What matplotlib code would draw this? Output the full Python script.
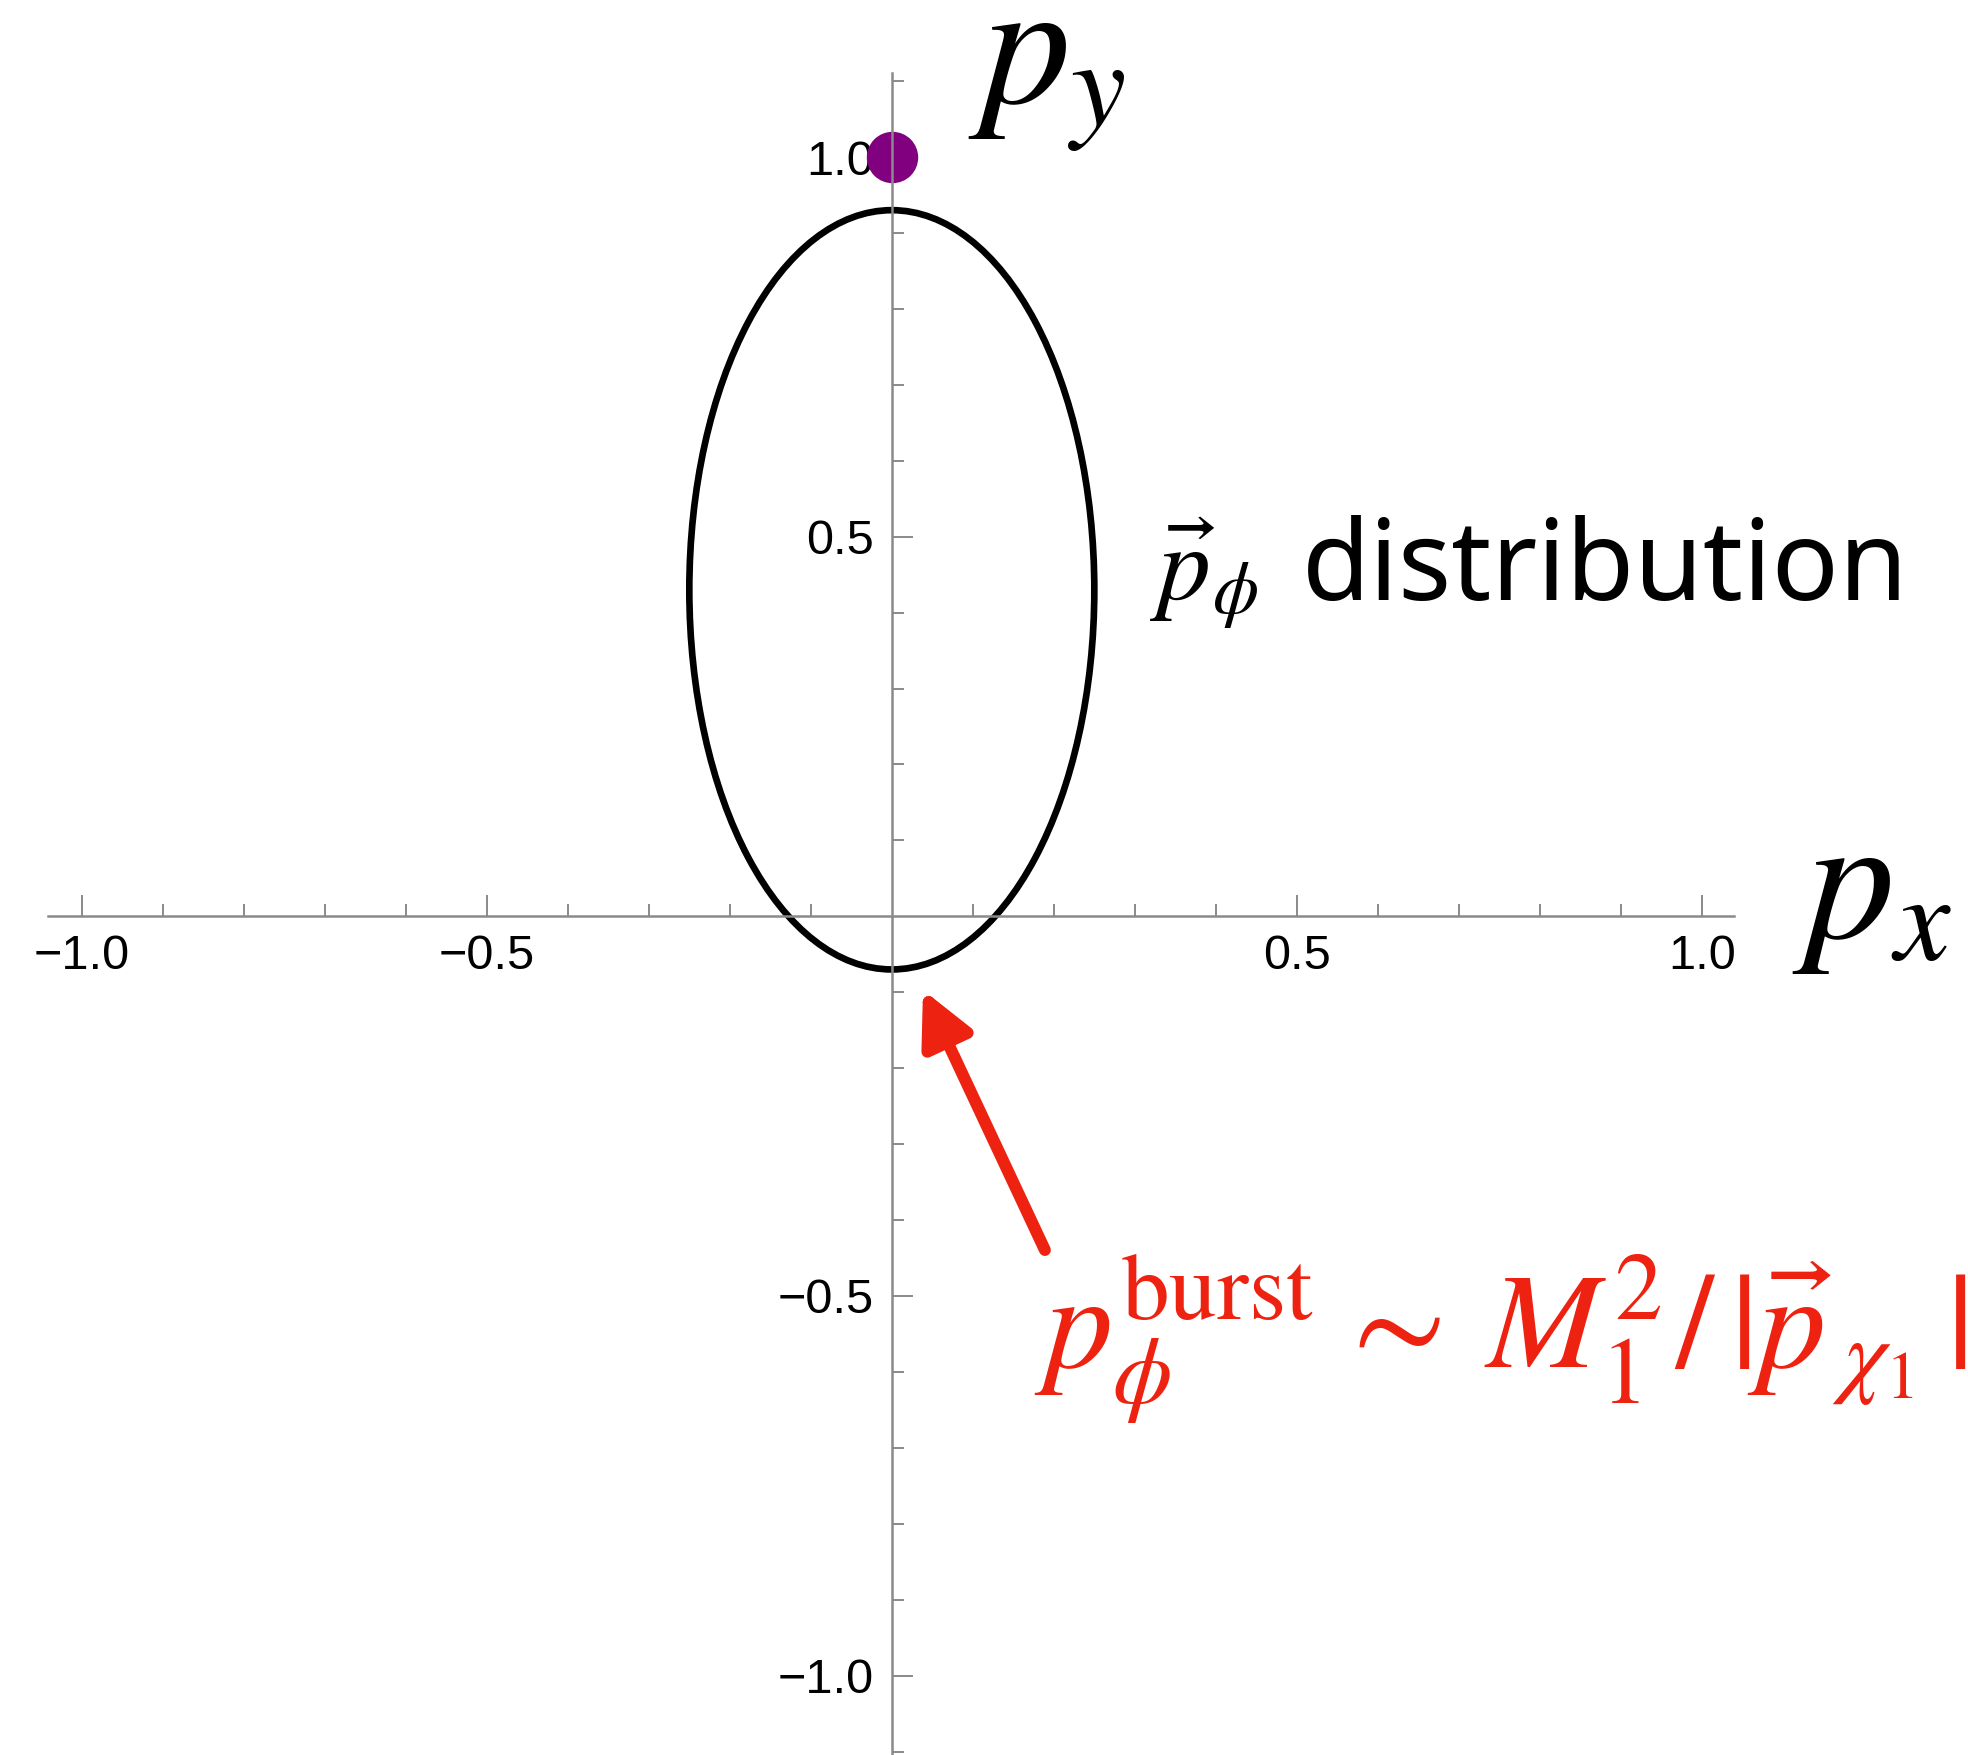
import matplotlib
matplotlib.use('Agg')
import matplotlib.pyplot as plt
from matplotlib.patches import Ellipse

plt.rcParams['mathtext.fontset'] = 'stix'
plt.rcParams['font.family'] = ['Liberation Sans', 'DejaVu Sans']

# momentum distribution of phi (ellipse) and the chi_1 momentum point
ell_center = (0.0, 0.43)
ell_width = 0.5
ell_height = 1.0
dot_xy = (0.0, 1.0)

# arrow towards the bottom of the distribution
arrow_tail = (0.189, -0.4395)
arrow_head = (0.0385, -0.097)

major_ticks = [-1.0, -0.5, 0.5, 1.0]
major_labels = ['\u22121.0', '\u22120.5', '0.5', '1.0']
x_minor = [-0.9, -0.8, -0.7, -0.6, -0.4, -0.3, -0.2, -0.1,
           0.1, 0.2, 0.3, 0.4, 0.6, 0.7, 0.8, 0.9]
y_minor = [-1.1] + x_minor + [1.1]

red = '#ee2211'
gray = '#8a8a8a'

fig = plt.figure(figsize=(9.84, 8.775), dpi=200)
ax = fig.add_axes([0, 0, 1, 1])
ax.set_xlim(-1.1010, 1.3286)
ax.set_ylim(-1.1046, 1.2068)

for s in ['top', 'right']:
    ax.spines[s].set_visible(False)
ax.spines['left'].set_position(('data', 0))
ax.spines['bottom'].set_position(('data', 0))
ax.spines['bottom'].set_bounds(-1.042, 1.04)
ax.spines['left'].set_bounds(-1.103, 1.11)
for s in ['left', 'bottom']:
    ax.spines[s].set_color(gray)
    ax.spines[s].set_linewidth(0.9)
    ax.spines[s].set_zorder(6)

ax.set_xticks(major_ticks, major_labels)
ax.set_yticks(major_ticks, major_labels)
ax.set_xticks(x_minor, minor=True)
ax.set_yticks(y_minor, minor=True)
ax.tick_params(which='both', direction='in', color=gray, width=0.7,
               labelsize=17.5, pad=6.5)
ax.tick_params(which='major', length=7.5)
ax.tick_params(which='minor', length=4.3)

ax.add_patch(Ellipse(ell_center, ell_width, ell_height, fill=False,
                     lw=2.4, color='black', zorder=3))
ax.plot(*dot_xy, 'o', ms=18.5, color='#800080', mec='none', zorder=5)

ax.text(0.094, 1.072, r'$p_y$', fontsize=64, ha='left', va='baseline')
ax.text(1.111, -0.027, r'$p_x$', fontsize=64, ha='left', va='baseline')
ax.text(0.319, 0.417, r'$\vec{p}_\phi$', fontsize=38, ha='left', va='baseline')
ax.text(0.506, 0.417, 'distribution', fontsize=40, family='Noto Sans',
        ha='left', va='baseline')

ax.annotate('', xy=arrow_head, xytext=arrow_tail,
            arrowprops=dict(arrowstyle='-|>,head_length=0.8,head_width=0.4',
                            mutation_scale=20, lw=4.3, color=red,
                            shrinkA=0, shrinkB=0))
ax.text(0.176, -0.595,
        r'$p_\phi^{\rm burst}\hspace{0.15}\sim\hspace{0.22}M_1^2\hspace{0.07}/'
        r'\hspace{0.18}|\vec{p}_{\hspace{0.2}\chi_1}\hspace{0.17}|$',
        fontsize=49, color=red, ha='left', va='baseline')

fig.savefig('out.png', dpi=200, facecolor='white')
